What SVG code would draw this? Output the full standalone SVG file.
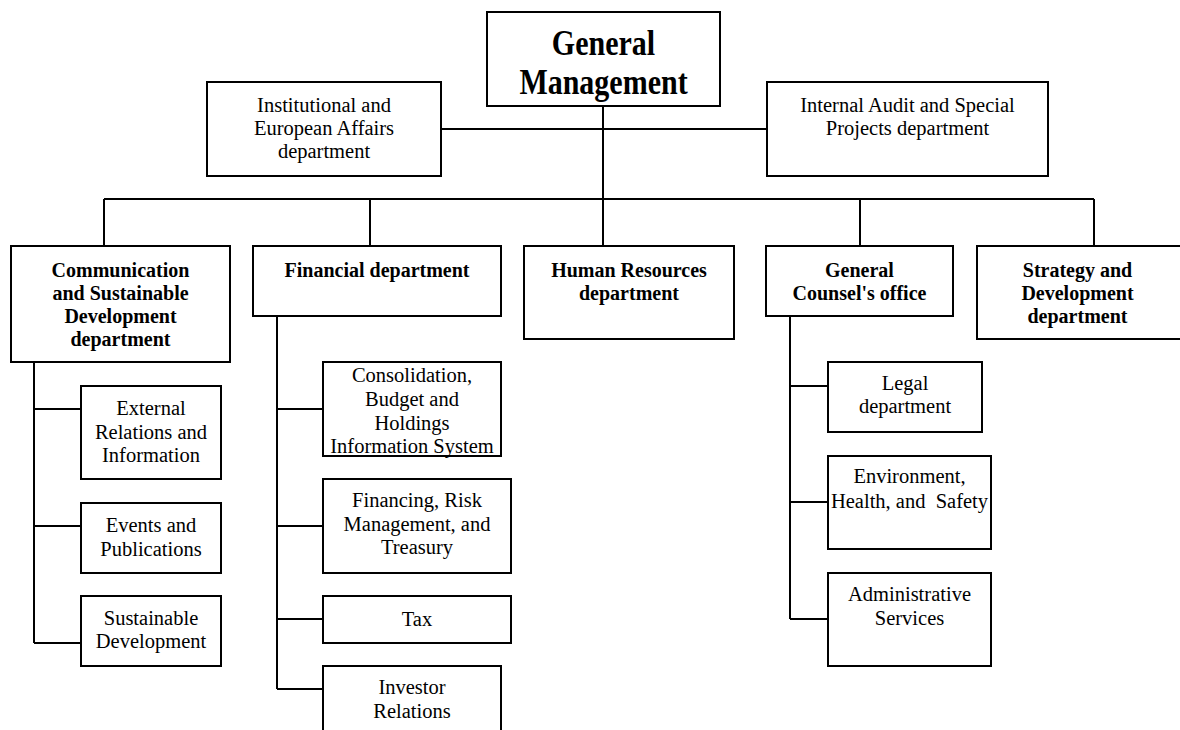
<svg xmlns="http://www.w3.org/2000/svg" width="1180" height="730" viewBox="0 0 1180 730">
<style>
.box{fill:#fff;stroke:#000;stroke-width:2}
.ln{fill:none;stroke:#000;stroke-width:2}
.t{font-family:"Liberation Serif","Times New Roman",serif;font-size:20.5px;text-anchor:middle;fill:#000}
.b{font-weight:bold;font-size:20px}
.gm{font-weight:bold;font-size:30px}
</style>
<rect x="0" y="0" width="1180" height="730" fill="#fff"/>
<g id="connectors">
<path class="ln" d="M603,106V199M441,129H767M104,199H1094M104,199V246M370,199V246M603,199V246M860,199V246M1094,199V246"/>
<path class="ln" d="M34,362V643M34,409H81M34,526H81M34,643H81"/>
<path class="ln" d="M277,316V689M277,409H323M277,526H323M277,619H323M277,689H323"/>
<path class="ln" d="M790,316V619M790,386H828M790,502H828M790,619H828"/>
</g>
<g id="general-management">
<rect class="box" x="487" y="12" width="233" height="94"/>
<text class="t gm" transform="translate(603.5,55) scale(1,1.2)">General</text>
<text class="t gm" transform="translate(603.5,94) scale(1,1.2)">Management</text>
</g>
<g id="institutional">
<rect class="box" x="207" y="82" width="234" height="94"/>
<text class="t" x="324" y="112">Institutional and</text>
<text class="t" x="324" y="135">European Affairs</text>
<text class="t" x="324" y="158">department</text>
</g>
<g id="internal-audit">
<rect class="box" x="767" y="82" width="281" height="94"/>
<text class="t" x="907.5" y="112">Internal Audit and Special</text>
<text class="t" x="907.5" y="135">Projects department</text>
</g>
<g id="communication">
<rect class="box" x="11" y="246" width="219" height="116"/>
<text class="t b" x="120.5" y="277">Communication</text>
<text class="t b" x="120.5" y="300">and Sustainable</text>
<text class="t b" x="120.5" y="323">Development</text>
<text class="t b" x="120.5" y="346">department</text>
</g>
<g id="financial">
<rect class="box" x="253" y="246" width="248" height="70"/>
<text class="t b" x="377" y="277">Financial department</text>
</g>
<g id="human-resources">
<rect class="box" x="524" y="246" width="210" height="93"/>
<text class="t b" x="629" y="277">Human Resources</text>
<text class="t b" x="629" y="300">department</text>
</g>
<g id="general-counsel">
<rect class="box" x="766" y="246" width="187" height="70"/>
<text class="t b" x="859.5" y="277">General</text>
<text class="t b" x="859.5" y="300">Counsel's office</text>
</g>
<g id="strategy">
<rect class="box" x="977" y="246" width="206" height="93"/>
<text class="t b" x="1077.5" y="277">Strategy and</text>
<text class="t b" x="1077.5" y="300">Development</text>
<text class="t b" x="1077.5" y="323">department</text>
</g>
<g id="external-relations">
<rect class="box" x="81" y="386" width="140" height="93"/>
<text class="t" x="151" y="415">External</text>
<text class="t" x="151" y="439">Relations and</text>
<text class="t" x="151" y="462">Information</text>
</g>
<g id="events">
<rect class="box" x="81" y="503" width="140" height="70"/>
<text class="t" x="151" y="532">Events and</text>
<text class="t" x="151" y="556">Publications</text>
</g>
<g id="sustainable-development">
<rect class="box" x="81" y="596" width="140" height="70"/>
<text class="t" x="151" y="625">Sustainable</text>
<text class="t" x="151" y="648">Development</text>
</g>
<g id="consolidation">
<rect class="box" x="323" y="362" width="178" height="94"/>
<text class="t" x="412" y="382">Consolidation,</text>
<text class="t" x="412" y="406">Budget and</text>
<text class="t" x="412" y="430">Holdings</text>
<text class="t" x="412" y="453">Information System</text>
</g>
<g id="financing">
<rect class="box" x="323" y="479" width="188" height="94"/>
<text class="t" x="417" y="507">Financing, Risk</text>
<text class="t" x="417" y="531">Management, and</text>
<text class="t" x="417" y="554">Treasury</text>
</g>
<g id="tax">
<rect class="box" x="323" y="596" width="188" height="47"/>
<text class="t" x="417" y="626">Tax</text>
</g>
<g id="investor-relations">
<rect class="box" x="323" y="666" width="178" height="80"/>
<text class="t" x="412" y="694">Investor</text>
<text class="t" x="412" y="718">Relations</text>
</g>
<g id="legal">
<rect class="box" x="828" y="362" width="154" height="70"/>
<text class="t" x="905" y="390">Legal</text>
<text class="t" x="905" y="413">department</text>
</g>
<g id="environment">
<rect class="box" x="828" y="456" width="163" height="93"/>
<text class="t" x="909.5" y="483">Environment,</text>
<text class="t" x="909.5" y="508" xml:space="preserve" style="white-space:pre">Health, and  Safety</text>
</g>
<g id="administrative">
<rect class="box" x="828" y="573" width="163" height="93"/>
<text class="t" x="909.5" y="601">Administrative</text>
<text class="t" x="909.5" y="625">Services</text>
</g>
</svg>
